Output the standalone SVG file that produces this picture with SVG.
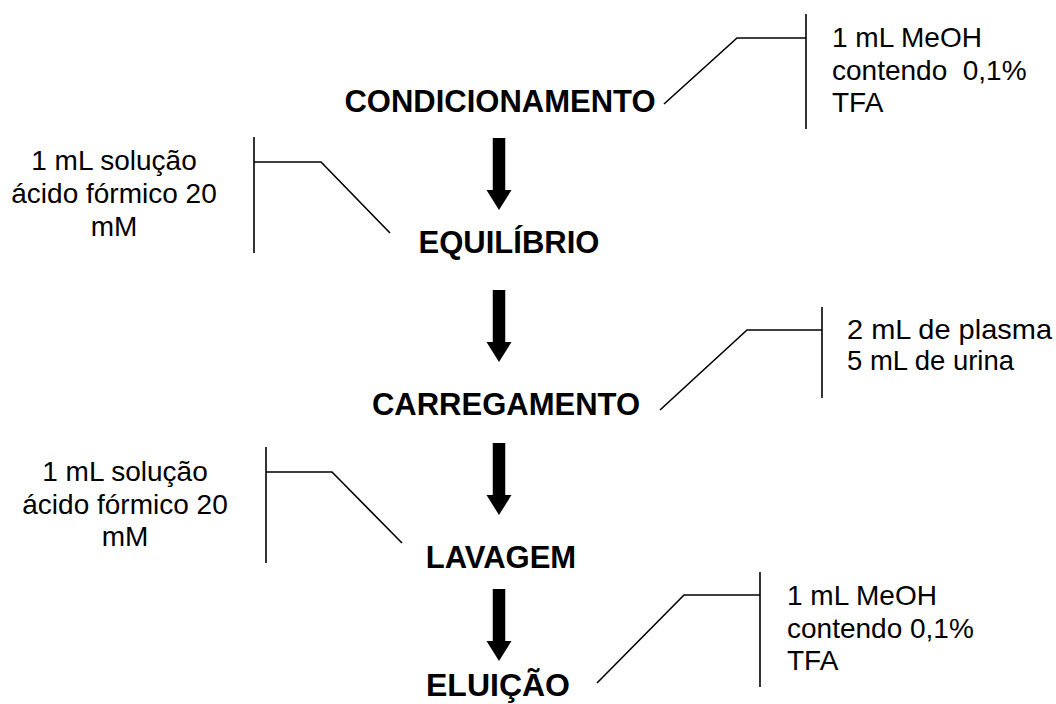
<svg xmlns="http://www.w3.org/2000/svg" xmlns:xlink="http://www.w3.org/1999/xlink" width="1056" height="704" viewBox="0 0 1056 704">
<style>
.step{font-family:"Liberation Sans",Arial,sans-serif;font-weight:bold;font-size:31px;text-anchor:middle;fill:#000}
.note{font-family:"Liberation Sans",Arial,sans-serif;font-size:28px;fill:#000}
.mid{text-anchor:middle}
.ln{fill:none;stroke:#000;stroke-width:1.6}
</style>
<defs>
<path id="arr" d="M-6.25,0 H6.25 V52 H12.5 L0,72 L-12.5,52 H-6.25 Z" fill="#000"/>
</defs>
<rect width="1056" height="704" fill="#fff"/>
<g id="connectors">
<use xlink:href="#arr" href="#arr" transform="translate(499,138)"/>
<use xlink:href="#arr" href="#arr" transform="translate(499,290)"/>
<use xlink:href="#arr" href="#arr" transform="translate(499,443)"/>
<use xlink:href="#arr" href="#arr" transform="translate(499,589)"/>
<line class="ln" x1="806" y1="14" x2="806" y2="129"/>
<polyline class="ln" points="806,38 737,38 664,104"/>
<line class="ln" x1="254" y1="137" x2="254" y2="253"/>
<polyline class="ln" points="254,162 321,162 390,233"/>
<line class="ln" x1="822" y1="307" x2="822" y2="398"/>
<polyline class="ln" points="822,330 747,330 660,410"/>
<line class="ln" x1="266" y1="447" x2="266" y2="563"/>
<polyline class="ln" points="266,472 332,472 402,543"/>
<line class="ln" x1="760" y1="572" x2="760" y2="687"/>
<polyline class="ln" points="760,595 684,595 597,683"/>
</g>
<g id="condicionamento"><text class="step" x="500" y="112">CONDICIONAMENTO</text></g>
<g id="equilibrio"><text class="step" x="509" y="253">EQUILÍBRIO</text></g>
<g id="carregamento"><text class="step" x="506" y="415">CARREGAMENTO</text></g>
<g id="lavagem"><text class="step" x="501" y="568">LAVAGEM</text></g>
<g id="eluicao"><text class="step" x="498" y="696" style="font-size:32px">ELUIÇÃO</text></g>
<g id="nota-condicionamento">
<text class="note" x="832" y="47">1 mL MeOH</text>
<text class="note" x="832" y="79.5" xml:space="preserve">contendo  0,1%</text>
<text class="note" x="832" y="112">TFA</text>
</g>
<g id="nota-equilibrio">
<text class="note mid" x="114" y="170">1 mL solução</text>
<text class="note mid" x="114" y="203">ácido fórmico 20</text>
<text class="note mid" x="114" y="236">mM</text>
</g>
<g id="nota-carregamento">
<text class="note" x="847" y="339" textLength="205" lengthAdjust="spacingAndGlyphs">2 mL de plasma</text>
<text class="note" x="847" y="370" textLength="167" lengthAdjust="spacingAndGlyphs">5 mL de urina</text>
</g>
<g id="nota-lavagem">
<text class="note mid" x="125" y="481">1 mL solução</text>
<text class="note mid" x="125" y="514">ácido fórmico 20</text>
<text class="note mid" x="125" y="546">mM</text>
</g>
<g id="nota-eluicao">
<text class="note" x="787" y="605">1 mL MeOH</text>
<text class="note" x="787" y="638">contendo 0,1%</text>
<text class="note" x="787" y="670">TFA</text>
</g>
</svg>
